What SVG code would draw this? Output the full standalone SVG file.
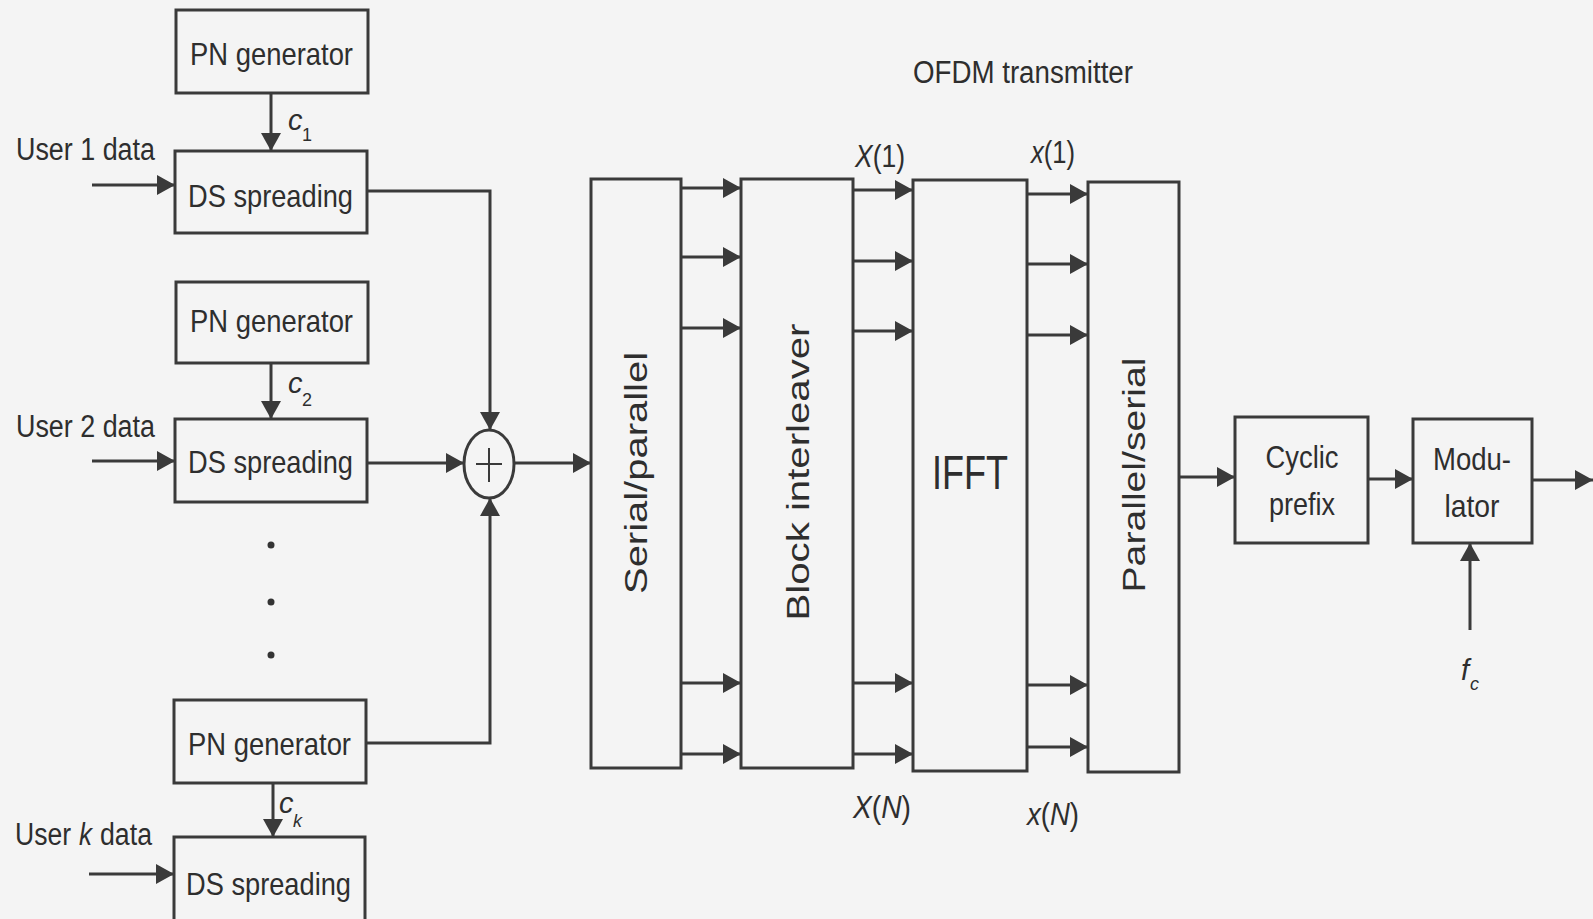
<svg xmlns="http://www.w3.org/2000/svg" width="1593" height="919" viewBox="0 0 1593 919">
<style>
.box{fill:none;stroke:#3a3a3a;stroke-width:3}
.ln{fill:none;stroke:#3a3a3a;stroke-width:3}
.t{font-family:"Liberation Sans",Arial,sans-serif;fill:#2e2e2e;font-size:32px}
.lbl{font-family:"Liberation Sans",Arial,sans-serif;fill:#2e2e2e;font-size:31px}
.it{font-style:italic}
.mid{text-anchor:middle}
</style>
<defs>
<marker id="ah" markerUnits="userSpaceOnUse" markerWidth="19" markerHeight="21" refX="18" refY="10" orient="auto">
<path d="M0,0 L18,10 L0,20 z" fill="#3a3a3a"/>
</marker>
</defs>
<rect width="1593" height="919" fill="#f4f4f4"/>

<g id="connectors">
<line class="ln" x1="92" y1="185" x2="175" y2="185" marker-end="url(#ah)"/>
<line class="ln" x1="92" y1="461" x2="175" y2="461" marker-end="url(#ah)"/>
<line class="ln" x1="89" y1="874" x2="174" y2="874" marker-end="url(#ah)"/>
<line class="ln" x1="271" y1="93" x2="271" y2="151" marker-end="url(#ah)"/>
<line class="ln" x1="271" y1="363" x2="271" y2="419" marker-end="url(#ah)"/>
<line class="ln" x1="273" y1="783" x2="273" y2="837" marker-end="url(#ah)"/>
<polyline class="ln" points="367,191 490,191 490,430" marker-end="url(#ah)"/>
<line class="ln" x1="367" y1="463" x2="464" y2="463" marker-end="url(#ah)"/>
<polyline class="ln" points="366,743 490,743 490,498" marker-end="url(#ah)"/>
<line class="ln" x1="515" y1="463" x2="591" y2="463" marker-end="url(#ah)"/>
<line class="ln" x1="681" y1="188" x2="741" y2="188" marker-end="url(#ah)"/>
<line class="ln" x1="681" y1="257" x2="741" y2="257" marker-end="url(#ah)"/>
<line class="ln" x1="681" y1="328" x2="741" y2="328" marker-end="url(#ah)"/>
<line class="ln" x1="681" y1="683" x2="741" y2="683" marker-end="url(#ah)"/>
<line class="ln" x1="681" y1="754" x2="741" y2="754" marker-end="url(#ah)"/>
<line class="ln" x1="853" y1="190" x2="913" y2="190" marker-end="url(#ah)"/>
<line class="ln" x1="853" y1="261" x2="913" y2="261" marker-end="url(#ah)"/>
<line class="ln" x1="853" y1="331" x2="913" y2="331" marker-end="url(#ah)"/>
<line class="ln" x1="853" y1="683" x2="913" y2="683" marker-end="url(#ah)"/>
<line class="ln" x1="853" y1="754" x2="913" y2="754" marker-end="url(#ah)"/>
<line class="ln" x1="1027" y1="194" x2="1088" y2="194" marker-end="url(#ah)"/>
<line class="ln" x1="1027" y1="264" x2="1088" y2="264" marker-end="url(#ah)"/>
<line class="ln" x1="1027" y1="335" x2="1088" y2="335" marker-end="url(#ah)"/>
<line class="ln" x1="1027" y1="685" x2="1088" y2="685" marker-end="url(#ah)"/>
<line class="ln" x1="1027" y1="747" x2="1088" y2="747" marker-end="url(#ah)"/>
<line class="ln" x1="1179" y1="477" x2="1235" y2="477" marker-end="url(#ah)"/>
<line class="ln" x1="1368" y1="479" x2="1413" y2="479" marker-end="url(#ah)"/>
<line class="ln" x1="1532" y1="480" x2="1593" y2="480" marker-end="url(#ah)"/>
<line class="ln" x1="1470" y1="630" x2="1470" y2="543" marker-end="url(#ah)"/>
</g>

<g id="pn1"><rect class="box" x="176" y="10" width="192" height="83"/><text class="t" x="190" y="65" textLength="163" lengthAdjust="spacingAndGlyphs">PN generator</text></g>
<g id="ds1"><rect class="box" x="175" y="151" width="192" height="82"/><text class="t" x="188" y="207" textLength="165" lengthAdjust="spacingAndGlyphs">DS spreading</text></g>
<g id="pn2"><rect class="box" x="176" y="282" width="192" height="81"/><text class="t" x="190" y="332" textLength="163" lengthAdjust="spacingAndGlyphs">PN generator</text></g>
<g id="ds2"><rect class="box" x="175" y="419" width="192" height="83"/><text class="t" x="188" y="473" textLength="165" lengthAdjust="spacingAndGlyphs">DS spreading</text></g>
<g id="pnk"><rect class="box" x="174" y="700" width="192" height="83"/><text class="t" x="188" y="755" textLength="163" lengthAdjust="spacingAndGlyphs">PN generator</text></g>
<g id="dsk"><rect class="box" x="174" y="837" width="191" height="95"/><text class="t" x="186" y="895" textLength="165" lengthAdjust="spacingAndGlyphs">DS spreading</text></g>

<g id="adder">
<ellipse cx="489" cy="464" rx="25" ry="34" class="ln"/>
<line class="ln" x1="476" y1="464" x2="502" y2="464" style="stroke-width:2"/>
<line class="ln" x1="489" y1="448" x2="489" y2="482" style="stroke-width:2"/>
</g>

<g id="dots" fill="#333">
<circle cx="271" cy="545" r="3.5"/><circle cx="271" cy="602" r="3.5"/><circle cx="271" cy="655" r="3.5"/>
</g>

<g id="sp"><rect class="box" x="591" y="179" width="90" height="589"/><text class="t mid" transform="rotate(-90 636 473)" x="636" y="484" textLength="242" lengthAdjust="spacingAndGlyphs">Serial/parallel</text></g>
<g id="bi"><rect class="box" x="741" y="179" width="112" height="589"/><text class="t mid" transform="rotate(-90 798 472)" x="798" y="483" textLength="297" lengthAdjust="spacingAndGlyphs">Block interleaver</text></g>
<g id="ifft"><rect class="box" x="913" y="180" width="114" height="591"/><text class="t mid" x="970" y="489" style="font-size:48px" textLength="76" lengthAdjust="spacingAndGlyphs">IFFT</text></g>
<g id="ps"><rect class="box" x="1088" y="182" width="91" height="590"/><text class="t mid" transform="rotate(-90 1134 475)" x="1134" y="486" textLength="235" lengthAdjust="spacingAndGlyphs">Parallel/serial</text></g>
<g id="cp"><rect class="box" x="1235" y="417" width="133" height="126"/><text class="t mid" x="1302" y="468" textLength="73" lengthAdjust="spacingAndGlyphs">Cyclic</text><text class="t mid" x="1302" y="515" textLength="66" lengthAdjust="spacingAndGlyphs">prefix</text></g>
<g id="mod"><rect class="box" x="1413" y="419" width="119" height="124"/><text class="t mid" x="1472" y="470" textLength="78" lengthAdjust="spacingAndGlyphs">Modu-</text><text class="t mid" x="1472" y="517" textLength="55" lengthAdjust="spacingAndGlyphs">lator</text></g>

<g id="labels">
<text class="lbl" x="16" y="160" textLength="139" lengthAdjust="spacingAndGlyphs">User 1 data</text>
<text class="lbl" x="16" y="437" textLength="139" lengthAdjust="spacingAndGlyphs">User 2 data</text>
<text class="lbl" x="15" y="845" textLength="56" lengthAdjust="spacingAndGlyphs">User</text>
<text class="lbl it" x="79" y="845" textLength="13" lengthAdjust="spacingAndGlyphs">k</text>
<text class="lbl" x="100" y="845" textLength="52" lengthAdjust="spacingAndGlyphs">data</text>
<text class="lbl it" x="288" y="130" style="font-size:29px">c</text><text class="lbl" x="302" y="141" style="font-size:18px">1</text>
<text class="lbl it" x="288" y="393" style="font-size:29px">c</text><text class="lbl" x="302" y="406" style="font-size:18px">2</text>
<text class="lbl it" x="279" y="813" style="font-size:29px">c</text><text class="lbl it" x="293" y="827" style="font-size:18px">k</text>
<text class="lbl" x="913" y="83" textLength="220" lengthAdjust="spacingAndGlyphs">OFDM transmitter</text>
<text class="lbl mid" x="880" y="167" textLength="50" lengthAdjust="spacingAndGlyphs"><tspan class="it">X</tspan>(1)</text>
<text class="lbl mid" x="1053" y="163" textLength="44" lengthAdjust="spacingAndGlyphs"><tspan class="it">x</tspan>(1)</text>
<text class="lbl mid" x="882" y="818" textLength="58" lengthAdjust="spacingAndGlyphs"><tspan class="it">X</tspan>(<tspan class="it">N</tspan>)</text>
<text class="lbl mid" x="1053" y="825" textLength="52" lengthAdjust="spacingAndGlyphs"><tspan class="it">x</tspan>(<tspan class="it">N</tspan>)</text>
<text class="lbl it" x="1461" y="680" style="font-size:29px">f</text><text class="lbl it" x="1470" y="690" style="font-size:18px">c</text>
</g>
</svg>
